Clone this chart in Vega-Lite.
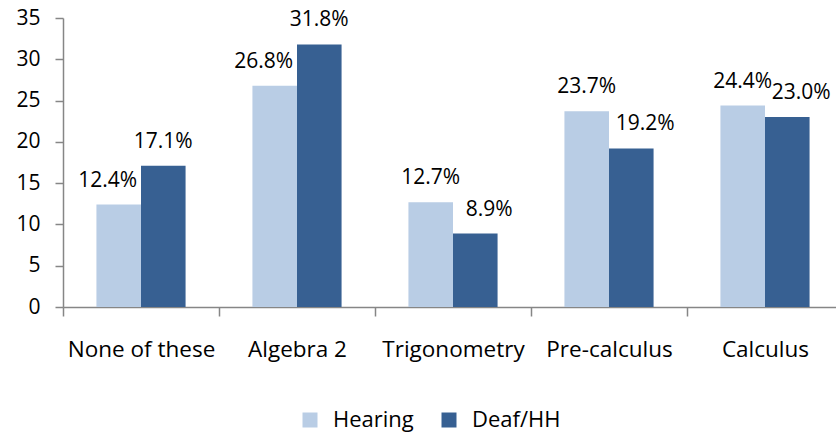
{
  "$schema": "https://vega.github.io/schema/vega-lite/v6.json",
  "autosize": "none",
  "width": 780,
  "height": 289,
  "padding": {"left": 63, "top": 18, "right": 0, "bottom": 128},
  "background": "white",
  "config": {
    "font": "Open Sans",
    "view": {"stroke": null},
    "axis": {"grid": false, "domainColor": "#868686", "tickColor": "#868686", "labelColor": "#000000", "labelFont": "Open Sans", "tickSize": 8, "domainWidth": 1.5, "tickWidth": 1.5}
  },
  "data": {
    "values": [
      {"course": "None of these", "group": "Hearing", "value": 12.4},
      {"course": "None of these", "group": "Deaf/HH", "value": 17.1},
      {"course": "Algebra 2", "group": "Hearing", "value": 26.8},
      {"course": "Algebra 2", "group": "Deaf/HH", "value": 31.8},
      {"course": "Trigonometry", "group": "Hearing", "value": 12.7},
      {"course": "Trigonometry", "group": "Deaf/HH", "value": 8.9},
      {"course": "Pre-calculus", "group": "Hearing", "value": 23.7},
      {"course": "Pre-calculus", "group": "Deaf/HH", "value": 19.2},
      {"course": "Calculus", "group": "Hearing", "value": 24.4},
      {"course": "Calculus", "group": "Deaf/HH", "value": 23.0}
    ]
  },
  "transform": [
    {"calculate": "format(datum.value, '.1f') + '%'", "as": "label"}
  ],
  "encoding": {
    "x": {
      "field": "course", "type": "nominal", "sort": null, "title": null,
      "scale": {"paddingInner": 0, "paddingOuter": 0},
      "axis": {"labelAngle": 0, "labelFontSize": 22.5, "labelPadding": 22, "tickBand": "extent", "tickSize": 9}
    },
    "xOffset": {
      "field": "group", "type": "nominal", "sort": ["Hearing", "Deaf/HH"],
      "scale": {"paddingInner": 0, "paddingOuter": 0.75}
    },
    "y": {
      "field": "value", "type": "quantitative", "title": null,
      "scale": {"domain": [0, 35]},
      "axis": {"values": [0, 5, 10, 15, 20, 25, 30, 35], "labelFontSize": 21, "labelPadding": 15}
    }
  },
  "layer": [
    {
      "mark": {"type": "bar"},
      "encoding": {
        "color": {
          "field": "group", "type": "nominal",
          "scale": {"domain": ["Hearing", "Deaf/HH"], "range": ["#B9CDE5", "#376092"]},
          "legend": {
            "title": null, "orient": "none", "direction": "horizontal",
            "legendX": 236, "legendY": 391,
            "symbolType": "square", "symbolSize": 225, "symbolStrokeWidth": 0,
            "labelFontSize": 22, "labelOffset": 12, "columnPadding": 24, "labelColor": "#000000"
          }
        }
      }
    },
    {
      "transform": [{"filter": "!((datum.group == 'Hearing' && (datum.course == 'None of these' || datum.course == 'Algebra 2')) || (datum.group == 'Deaf/HH' && (datum.course == 'Trigonometry' || datum.course == 'Pre-calculus' || datum.course == 'Calculus')))"}],
      "mark": {"type": "text", "fontSize": 21, "baseline": "alphabetic", "dy": -18, "color": "#000000"},
      "encoding": {"text": {"field": "label"}}
    },
    {
      "transform": [{"filter": "datum.group == 'Hearing' && (datum.course == 'None of these' || datum.course == 'Algebra 2')"}],
      "mark": {"type": "text", "fontSize": 21, "baseline": "alphabetic", "dy": -18, "dx": -11, "color": "#000000"},
      "encoding": {"text": {"field": "label"}}
    },
    {
      "transform": [{"filter": "datum.group == 'Deaf/HH' && (datum.course == 'Trigonometry' || datum.course == 'Pre-calculus' || datum.course == 'Calculus')"}],
      "mark": {"type": "text", "fontSize": 21, "baseline": "alphabetic", "dy": -18, "dx": 14, "color": "#000000"},
      "encoding": {"text": {"field": "label"}}
    }
  ]
}
